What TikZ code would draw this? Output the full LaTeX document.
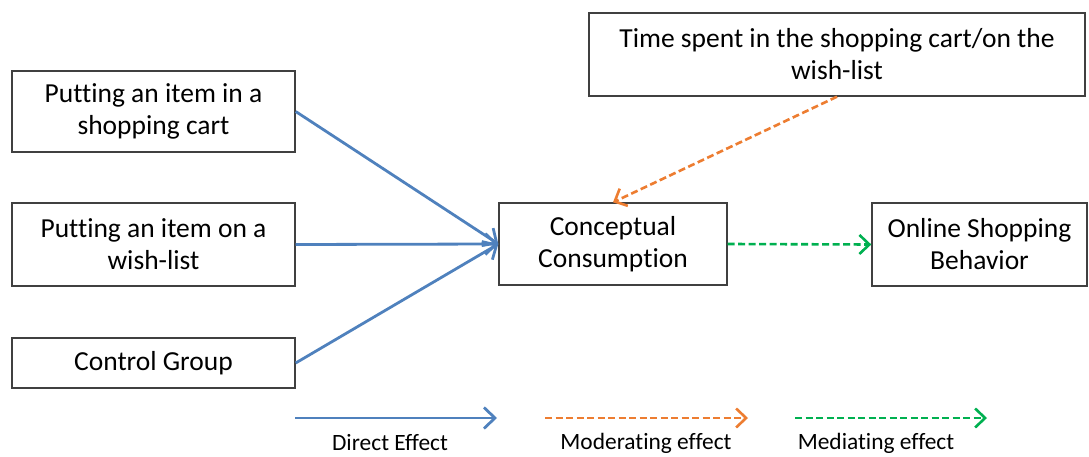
\documentclass[tikz,border=0pt]{standalone}
\usepackage{fontspec}
\setmainfont{Carlito}[Ligatures=NoCommon]
\usetikzlibrary{arrows.meta}

\definecolor{directblue}{HTML}{4F81BD}
\definecolor{moderorange}{HTML}{ED7D31}
\definecolor{mediagreen}{HTML}{00B050}

\tikzset{
  varbox/.style={draw=black!75, line width=1.4pt, inner sep=0pt, align=center,
    font=\fontsize{27.5}{32}\selectfont},
  direct/.style={draw=directblue, line width=2.8pt,
    -{Straight Barb[length=11pt,width=21pt,line width=2.8pt]}},
  moderating/.style={draw=moderorange, line width=2.6pt, dash pattern=on 7pt off 3.5pt,
    -{Straight Barb[length=10pt,width=19pt,line width=2.6pt]}},
  mediating/.style={draw=mediagreen, line width=2.6pt, dash pattern=on 7pt off 3.5pt,
    -{Straight Barb[length=10pt,width=19pt,line width=2.6pt]}},
  legendtext/.style={font=\fontsize{23.4}{27}\selectfont}
}

\begin{document}
\begin{tikzpicture}[x=1pt, y=-1pt]
  \useasboundingbox (0,0) rectangle (1089,457);

  % experimental conditions
  \node[varbox, minimum width=283pt, minimum height=81pt] (cart) at (153.5,111.5)
    {Putting an item in a\\shopping cart};
  \node[varbox, minimum width=283pt, minimum height=83pt] (wish) at (153.5,244.5)
    {Putting an item on a\\wish-list};
  \node[varbox, minimum width=283pt, minimum height=50pt] (control) at (153.5,363)
    {Control Group};

  \node[varbox, minimum width=228pt, minimum height=82pt] (concept) at (613,244)
    {Conceptual\\Consumption};
  \node[varbox, minimum width=215pt, minimum height=83pt] (online) at (979.5,244.5)
    {Online Shopping\\Behavior};
  \node[varbox, minimum width=496pt, minimum height=83pt] (time) at (837,54.5)
    {Time spent in the shopping cart/on the\\wish-list};

  \draw[direct] (cart.east) -- (concept.west);
  \draw[direct] (wish.east) -- (concept.west);
  \draw[direct] (control.east) -- (concept.west);
  \draw[moderating] (time.south) -- (concept.north);
  \draw[mediating] (concept.east) -- (online.west);

  % legend
  \coordinate (dirA) at (295,418);
  \coordinate (dirB) at (497,418);
  \coordinate (modA) at (545,418);
  \coordinate (modB) at (748,418);
  \coordinate (medA) at (795,418);
  \coordinate (medB) at (987,418);
  \draw[direct] (dirA) -- (dirB);
  \draw[moderating] (modA) -- (modB);
  \draw[mediating] (medA) -- (medB);
  \node[legendtext] (dirlabel) at (390,443) {Direct Effect};
  \node[legendtext] (modlabel) at (646,443) {Moderating effect};
  \node[legendtext] (medlabel) at (876,443) {Mediating effect};
\end{tikzpicture}
\end{document}
